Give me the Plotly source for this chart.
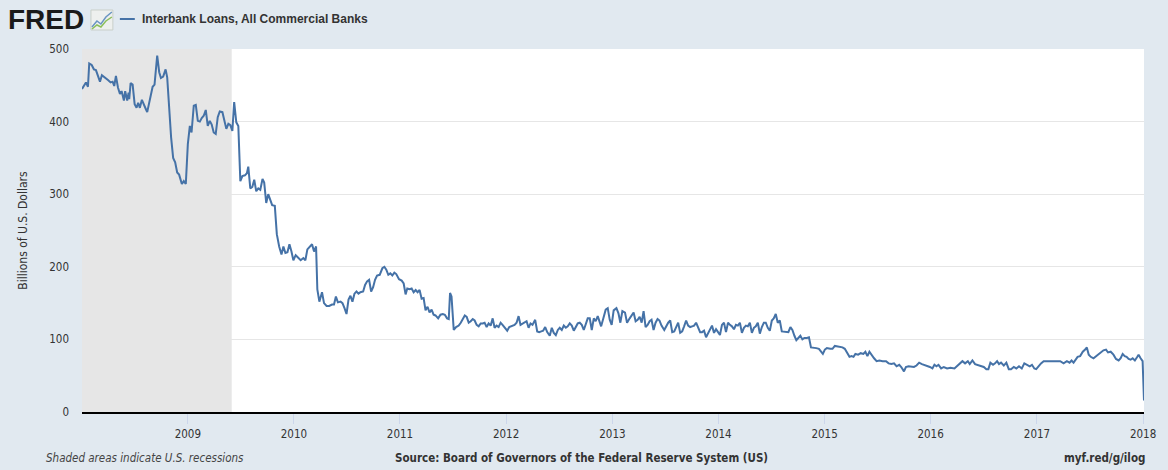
import plotly.graph_objects as go
from datetime import datetime, timedelta
import calendar

# ---- data (decimal year of observation, billions of US dollars) ----
obs_year = [
    2008.005, 2008.023, 2008.042, 2008.061, 2008.073, 2008.096, 2008.117, 2008.136, 2008.158, 2008.174,
    2008.192, 2008.221, 2008.252, 2008.274, 2008.293, 2008.308, 2008.324, 2008.343, 2008.362, 2008.377,
    2008.387, 2008.399, 2008.411, 2008.424, 2008.430, 2008.443, 2008.449, 2008.462, 2008.481, 2008.500,
    2008.518, 2008.533, 2008.549, 2008.568, 2008.587, 2008.606, 2008.618, 2008.631, 2008.650, 2008.669,
    2008.687, 2008.712, 2008.731, 2008.747, 2008.768, 2008.791, 2008.806, 2008.824, 2008.843, 2008.862,
    2008.881, 2008.900, 2008.918, 2008.944, 2008.962, 2008.981, 2009.000, 2009.019, 2009.035, 2009.056,
    2009.075, 2009.094, 2009.113, 2009.131, 2009.150, 2009.169, 2009.188, 2009.207, 2009.225, 2009.244,
    2009.263, 2009.282, 2009.301, 2009.326, 2009.345, 2009.363, 2009.382, 2009.401, 2009.420, 2009.437,
    2009.457, 2009.476, 2009.495, 2009.514, 2009.538, 2009.557, 2009.570, 2009.589, 2009.608, 2009.626,
    2009.645, 2009.664, 2009.683, 2009.704, 2009.720, 2009.739, 2009.758, 2009.777, 2009.795, 2009.820,
    2009.839, 2009.861, 2009.883, 2009.901, 2009.920, 2009.939, 2009.958, 2009.977, 2009.995, 2010.017,
    2010.040, 2010.064, 2010.089, 2010.108, 2010.127, 2010.152, 2010.171, 2010.190, 2010.209, 2010.221,
    2010.240, 2010.265, 2010.284, 2010.308, 2010.333, 2010.359, 2010.378, 2010.396, 2010.415, 2010.440,
    2010.458, 2010.477, 2010.496, 2010.515, 2010.533, 2010.552, 2010.571, 2010.590, 2010.609, 2010.627,
    2010.653, 2010.671, 2010.690, 2010.709, 2010.728, 2010.747, 2010.765, 2010.784, 2010.809, 2010.834,
    2010.853, 2010.871, 2010.890, 2010.909, 2010.928, 2010.947, 2010.965, 2010.991, 2011.016, 2011.035,
    2011.053, 2011.069, 2011.091, 2011.110, 2011.129, 2011.148, 2011.166, 2011.185, 2011.204, 2011.223,
    2011.241, 2011.260, 2011.279, 2011.298, 2011.317, 2011.335, 2011.360, 2011.382, 2011.404, 2011.423,
    2011.444, 2011.460, 2011.472, 2011.486, 2011.507, 2011.529, 2011.554, 2011.573, 2011.592, 2011.611,
    2011.629, 2011.648, 2011.667, 2011.686, 2011.704, 2011.723, 2011.742, 2011.761, 2011.780, 2011.798,
    2011.817, 2011.836, 2011.855, 2011.874, 2011.892, 2011.911, 2011.930, 2011.949, 2011.967, 2011.993,
    2012.011, 2012.030, 2012.055, 2012.080, 2012.099, 2012.118, 2012.136, 2012.155, 2012.174, 2012.193,
    2012.212, 2012.230, 2012.249, 2012.274, 2012.293, 2012.312, 2012.331, 2012.349, 2012.368, 2012.387,
    2012.411, 2012.430, 2012.449, 2012.468, 2012.487, 2012.505, 2012.524, 2012.543, 2012.562, 2012.580,
    2012.599, 2012.618, 2012.637, 2012.656, 2012.674, 2012.693, 2012.712, 2012.731, 2012.750, 2012.768,
    2012.787, 2012.806, 2012.825, 2012.843, 2012.862, 2012.894, 2012.915, 2012.937, 2012.956, 2012.975,
    2012.993, 2013.012, 2013.038, 2013.057, 2013.075, 2013.094, 2013.119, 2013.138, 2013.163, 2013.182,
    2013.200, 2013.219, 2013.238, 2013.257, 2013.276, 2013.294, 2013.313, 2013.332, 2013.351, 2013.369,
    2013.388, 2013.407, 2013.426, 2013.444, 2013.463, 2013.489, 2013.507, 2013.526, 2013.545, 2013.564,
    2013.583, 2013.601, 2013.620, 2013.639, 2013.658, 2013.676, 2013.695, 2013.714, 2013.733, 2013.752,
    2013.770, 2013.789, 2013.808, 2013.827, 2013.845, 2013.864, 2013.883, 2013.902, 2013.921, 2013.939,
    2013.958, 2013.977, 2013.996, 2014.014, 2014.033, 2014.052, 2014.071, 2014.090, 2014.108, 2014.127,
    2014.146, 2014.165, 2014.183, 2014.202, 2014.221, 2014.240, 2014.259, 2014.277, 2014.296, 2014.315,
    2014.334, 2014.352, 2014.371, 2014.390, 2014.409, 2014.428, 2014.446, 2014.465, 2014.484, 2014.503,
    2014.521, 2014.540, 2014.559, 2014.578, 2014.597, 2014.615, 2014.640, 2014.659, 2014.678, 2014.697,
    2014.716, 2014.734, 2014.753, 2014.772, 2014.791, 2014.810, 2014.834, 2014.853, 2014.872, 2014.897,
    2014.922, 2014.947, 2014.966, 2014.984, 2015.003, 2015.022, 2015.054, 2015.075, 2015.097, 2015.129,
    2015.169, 2015.191, 2015.216, 2015.235, 2015.254, 2015.273, 2015.291, 2015.317, 2015.341, 2015.366,
    2015.385, 2015.404, 2015.423, 2015.441, 2015.467, 2015.491, 2015.517, 2015.548, 2015.580, 2015.604,
    2015.630, 2015.655, 2015.679, 2015.704, 2015.723, 2015.749, 2015.767, 2015.792, 2015.817, 2015.843,
    2015.867, 2015.892, 2015.918, 2015.942, 2015.967, 2015.993, 2016.017, 2016.036, 2016.055, 2016.074,
    2016.099, 2016.124, 2016.155, 2016.186, 2016.224, 2016.249, 2016.275, 2016.299, 2016.324, 2016.350,
    2016.368, 2016.393, 2016.418, 2016.443, 2016.468, 2016.500, 2016.524, 2016.543, 2016.562, 2016.587,
    2016.606, 2016.625, 2016.643, 2016.662, 2016.688, 2016.712, 2016.735, 2016.756, 2016.782, 2016.806,
    2016.831, 2016.857, 2016.881, 2016.906, 2016.932, 2016.953, 2016.975, 2016.993, 2017.012, 2017.038,
    2017.063, 2017.094, 2017.125, 2017.157, 2017.188, 2017.219, 2017.251, 2017.282, 2017.307, 2017.326,
    2017.345, 2017.364, 2017.383, 2017.407, 2017.432, 2017.454, 2017.470, 2017.488, 2017.507, 2017.533,
    2017.557, 2017.582, 2017.601, 2017.627, 2017.651, 2017.670, 2017.695, 2017.721, 2017.745, 2017.770,
    2017.789, 2017.808, 2017.827, 2017.845, 2017.864, 2017.883, 2017.902, 2017.923, 2017.946, 2017.958,
    2017.977, 2017.996, 2018.009,
]

loans_bn = [
    445, 449, 454, 448, 480, 478, 472, 471, 461, 455,
    464, 461, 457, 454, 455, 449, 463, 447, 438, 442,
    435, 429, 442, 435, 429, 440, 431, 453, 451, 424,
    419, 426, 419, 430, 422, 417, 413, 422, 431, 448,
    451, 491, 468, 460, 462, 472, 461, 415, 378, 350,
    344, 330, 327, 314, 318, 314, 369, 394, 385, 422,
    423, 401, 400, 405, 408, 416, 394, 401, 396, 385,
    383, 406, 414, 413, 403, 390, 397, 395, 387, 427,
    399, 394, 318, 325, 326, 329, 338, 308, 310, 320,
    304, 308, 306, 321, 316, 288, 300, 293, 285, 284,
    245, 228, 217, 228, 219, 220, 231, 221, 209, 216,
    212, 209, 212, 209, 224, 228, 231, 221, 228, 169,
    152, 165, 150, 146, 146, 148, 148, 159, 151, 152,
    150, 143, 135, 155, 160, 152, 163, 166, 163, 165,
    166, 175, 180, 182, 166, 172, 182, 188, 189, 198,
    200, 196, 189, 191, 188, 192, 190, 183, 181, 177,
    162, 170, 169, 170, 165, 168, 165, 168, 156, 157,
    140, 145, 137, 141, 134, 133, 129, 134, 135, 134,
    129, 128, 164, 159, 113, 117, 119, 123, 129, 133,
    131, 123, 125, 128, 126, 120, 118, 122, 122, 123,
    117, 122, 119, 129, 116, 119, 117, 123, 120, 116,
    112, 117, 118, 120, 123, 132, 120, 122, 123, 125,
    116, 122, 120, 127, 111, 110, 111, 112, 117, 110,
    105, 116, 109, 106, 113, 116, 113, 119, 116, 118,
    122, 119, 112, 118, 122, 123, 120, 113, 123, 129,
    129, 113, 129, 125, 132, 118, 129, 141, 143, 127,
    120, 140, 143, 136, 123, 139, 137, 123, 129, 133,
    137, 125, 127, 131, 123, 139, 117, 120, 125, 127,
    113, 123, 128, 126, 119, 113, 118, 123, 126, 110,
    111, 116, 123, 109, 111, 118, 126, 119, 117, 118,
    119, 123, 117, 110, 110, 112, 103, 109, 114, 119,
    109, 114, 110, 106, 120, 123, 110, 123, 120, 118,
    114, 120, 119, 123, 109, 116, 119, 118, 123, 109,
    116, 118, 123, 108, 117, 123, 123, 116, 112, 126,
    129, 135, 123, 126, 111, 111, 111, 110, 117, 113,
    105, 99, 102, 105, 100, 102, 102, 103, 89, 89,
    88, 87, 84, 80, 86, 88, 87, 87, 91, 90,
    89, 87, 81, 76, 77, 76, 80, 79, 81, 80,
    83, 77, 83, 79, 74, 70, 71, 70, 70, 67,
    66, 67, 63, 65, 62, 56, 62, 63, 63, 62,
    64, 68, 66, 65, 64, 62, 60, 65, 63, 65,
    60, 62, 60, 61, 60, 63, 66, 70, 67, 70,
    66, 71, 66, 65, 64, 62, 59, 59, 68, 65,
    67, 70, 66, 68, 64, 68, 59, 59, 62, 60,
    63, 60, 67, 65, 63, 65, 60, 59, 63, 67,
    70, 70, 71, 70, 71, 70, 67, 70, 68, 71,
    68, 72, 76, 77, 83, 86, 89, 79, 76, 74,
    77, 80, 83, 85, 86, 82, 83, 79, 73, 71,
    74, 80, 77, 76, 73, 72, 74, 71, 76, 79,
    74, 70, 16,
]

series_name = "Interbank Loans, All Commercial Banks"
y_title = "Billions of U.S. Dollars"
tick_years = [2009, 2010, 2011, 2012, 2013, 2014, 2015, 2016, 2017, 2018]
recession = ("2008-01-02", "2009-06-01")


def dec_to_date(y):
    yr = int(y)
    n = 366 if calendar.isleap(yr) else 365
    return datetime(yr, 1, 1) + timedelta(days=(y - yr) * n)


dates = [dec_to_date(y) for y in obs_year]

# ---- layout helpers (pixel -> paper) ----
W, H = 1168, 470
ML, MR, MT, MB = 82, 20, 49, 58
PW, PH = W - ML - MR, H - MT - MB


def px(x):
    return (x - ML) / PW


def py(y):
    return (H - MB - y) / PH


narrow = "DejaVu Sans Condensed, Liberation Sans Narrow, Arial Narrow, sans-serif"
sans = "Liberation Sans, Arial, sans-serif"

fig = go.Figure()
fig.add_trace(go.Scatter(
    x=dates, y=loans_bn, mode="lines", name=series_name,
    line=dict(color="#4572a7", width=2), showlegend=False,
))

fig.add_vrect(x0=recession[0], x1=recession[1], fillcolor="#e6e6e6",
              line_width=0, layer="below")

shapes = list(fig.layout.shapes)
# legend line
shapes.append(dict(type="line", xref="paper", yref="paper",
                   x0=px(120), x1=px(135), y0=py(19), y1=py(19),
                   line=dict(color="#4572a7", width=2)))
# small chart icon next to logo
shapes.append(dict(type="rect", xref="paper", yref="paper",
                   x0=px(91), x1=px(113), y0=py(30), y1=py(10),
                   fillcolor="#eef0ee", line=dict(color="#c9cfc9", width=1)))
shapes.append(dict(type="path", xref="paper", yref="paper",
                   path=f"M {px(92)},{py(27)} L {px(97)},{py(21)} L {px(101)},{py(24)} L {px(106)},{py(17)} L {px(112)},{py(12)}",
                   line=dict(color="#6b95c2", width=1.5)))
shapes.append(dict(type="path", xref="paper", yref="paper",
                   path=f"M {px(92)},{py(29)} L {px(97)},{py(25)} L {px(101)},{py(27)} L {px(106)},{py(21)} L {px(112)},{py(17)}",
                   line=dict(color="#8cbf5a", width=1.5)))

annotations = [
    dict(text="<b>FRED</b>", x=px(6), y=py(20), xref="paper", yref="paper",
         xanchor="left", yanchor="middle", showarrow=False,
         font=dict(family=sans, size=28, color="#1a1a1a")),
    dict(text="<b>" + series_name + "</b>", x=px(140), y=py(19), xref="paper", yref="paper",
         xanchor="left", yanchor="middle", showarrow=False,
         font=dict(family=sans, size=12, color="#333333")),
    dict(text=y_title, x=px(22), y=0.5, xref="paper", yref="paper",
         textangle=-90, xanchor="center", yanchor="middle", showarrow=False,
         font=dict(family=narrow, size=12, color="#333333")),
    dict(text="<i>Shaded areas indicate U.S. recessions</i>", x=px(44), y=py(458),
         xref="paper", yref="paper", xanchor="left", yanchor="middle", showarrow=False,
         font=dict(family=narrow, size=11.5, color="#444444")),
    dict(text="<b>Source: Board of Governors of the Federal Reserve System (US)</b>", x=px(583), y=py(458),
         xref="paper", yref="paper", xanchor="center", yanchor="middle", showarrow=False,
         font=dict(family=narrow, size=11.5, color="#333333")),
    dict(text="<b>myf.red/g/ilog</b>", x=px(1151), y=py(458),
         xref="paper", yref="paper", xanchor="right", yanchor="middle", showarrow=False,
         font=dict(family=narrow, size=11.5, color="#333333")),
]

fig.update_layout(
    width=W, height=H, autosize=False,
    margin=dict(l=ML, r=MR, t=MT, b=MB),
    paper_bgcolor="#e1e9f0", plot_bgcolor="#ffffff",
    shapes=shapes, annotations=annotations,
    xaxis=dict(
        type="date",
        range=[dates[0], dates[-1]],
        tickvals=[datetime(y, 1, 1) for y in tick_years],
        ticktext=[str(y) for y in tick_years],
        showgrid=False, zeroline=False,
        showline=True, linecolor="#000000", linewidth=2,
        ticks="outside", ticklen=10, tickcolor="#ccd6eb", tickwidth=1,
        tickfont=dict(family=narrow, size=11.5, color="#333333"),
    ),
    yaxis=dict(
        range=[0, 500], dtick=100, tick0=0,
        showgrid=True, gridcolor="#e6e6e6", gridwidth=1,
        zeroline=False, showline=False, ticks="",
        ticklabelstandoff=12,
        tickfont=dict(family=narrow, size=11.5, color="#333333"),
    ),
)

fig.write_html(
    "out.html",
    config={"displayModeBar": False},
    post_script="document.body.style.margin='0';document.body.style.background='#e1e9f0';",
)
